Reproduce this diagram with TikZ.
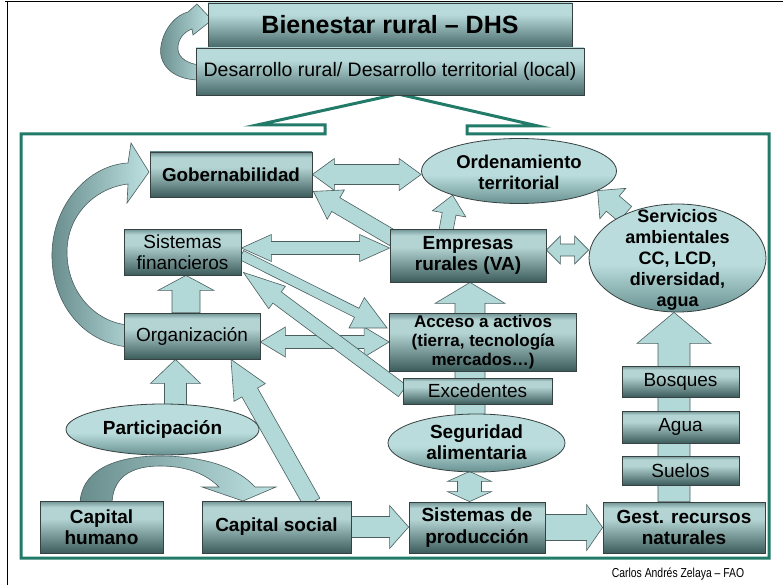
\documentclass[tikz,border=0pt]{standalone}
\usepackage{fontspec}
\setmainfont{Liberation Sans}
\newfontfamily\footfont[FakeStretch=0.8]{Liberation Sans}
\usetikzlibrary{calc,shapes.geometric}
\definecolor{bxT}{RGB}{112,146,146}
\definecolor{bxL}{RGB}{180,212,212}
\definecolor{bxD}{RGB}{60,92,92}
\definecolor{elL}{RGB}{186,220,220}
\definecolor{elD}{RGB}{105,145,145}
\definecolor{tL}{RGB}{185,218,218}
\definecolor{tD}{RGB}{72,106,106}
\definecolor{arF}{RGB}{178,216,216}
\definecolor{arD}{RGB}{105,140,140}
\definecolor{arL}{RGB}{190,225,225}
\definecolor{arLine}{RGB}{75,95,95}
\definecolor{frameG}{RGB}{34,122,104}
\definecolor{bxLine}{RGB}{55,65,65}
\pgfdeclareverticalshading{boxsh}{100bp}{color(0bp)=(bxD); color(25bp)=(bxD); color(58bp)=(bxL); color(69bp)=(bxL); color(75bp)=(bxT); color(100bp)=(bxT)}
\pgfdeclareverticalshading{ellsh}{100bp}{color(0bp)=(elD); color(25bp)=(elD); color(47bp)=(elL); color(75bp)=(elL); color(100bp)=(elL)}
\pgfdeclareverticalshading{topsh}{100bp}{color(0bp)=(tD); color(25bp)=(tD); color(62bp)=(tL); color(75bp)=(tL); color(100bp)=(tL)}
\pgfdeclarelayer{bottom}
\pgfdeclarelayer{background}
\pgfsetlayers{bottom,background,main}
% single block arrow: from, to, shaft half width, head half width, head length
\newcommand\blockarrow[6][]{%
  \coordinate (ba-a) at #2;
  \coordinate (ba-b) at #3;
  \coordinate (ba-h) at ($(ba-b)!#6!(ba-a)$);
  \path[blockarr,#1] ($(ba-a)!#4!90:(ba-b)$) -- ($(ba-h)!#4!90:(ba-b)$) -- ($(ba-h)!#5!90:(ba-b)$) -- (ba-b) -- ($(ba-h)!#5!-90:(ba-b)$) -- ($(ba-h)!#4!-90:(ba-b)$) -- ($(ba-a)!#4!-90:(ba-b)$) -- cycle;
}
% double block arrow
\newcommand\dblarrow[6][]{%
  \coordinate (ba-a) at #2;
  \coordinate (ba-b) at #3;
  \coordinate (ba-h) at ($(ba-b)!#6!(ba-a)$);
  \coordinate (ba-g) at ($(ba-a)!#6!(ba-b)$);
  \path[blockarr,#1] (ba-a) -- ($(ba-g)!#5!90:(ba-b)$) -- ($(ba-g)!#4!90:(ba-b)$) -- ($(ba-h)!#4!90:(ba-b)$) -- ($(ba-h)!#5!90:(ba-b)$) -- (ba-b) -- ($(ba-h)!#5!-90:(ba-b)$) -- ($(ba-h)!#4!-90:(ba-b)$) -- ($(ba-g)!#4!-90:(ba-b)$) -- ($(ba-g)!#5!-90:(ba-b)$) -- cycle;
}
\begin{document}
\begin{tikzpicture}[x=1pt,y=-1pt,
  rbox/.style={draw=bxLine, line width=0.8pt, shade, shading=boxsh, inner sep=0pt, align=center, text=black, font=\fontsize{19}{21}\selectfont},
  bbox/.style={rbox, font=\fontsize{19}{21.5}\selectfont\bfseries},
  tbox/.style={rbox, shading=topsh},
  ellnode/.style={draw=bxLine, line width=0.8pt, ellipse, shade, shading=ellsh, inner sep=0pt},
  lbl/.style={align=center, inner sep=0pt, text=black},
  blockarr/.style={draw=arLine, line width=0.6pt, fill=arF, line join=miter},
  curvarrow/.style={draw=arLine, line width=0.6pt, left color=arD, right color=arL, line join=miter}]
\useasboundingbox (0,0) rectangle (783,585);
\begin{pgfonlayer}{bottom}
\fill[white] (0,0) rectangle (783,585);
\draw[line width=1pt] (5,2) -- (783,2);
\draw[line width=1pt] (7,2) -- (7,585);
\draw[frameG, line width=3pt, fill=white, line join=miter] (21,134) -- (325,134) -- (325,125) -- (257,125) -- (398,94) -- (538,126) -- (467,126) -- (467,134) -- (769,134) -- (769,558) -- (21,558) -- cycle;
\end{pgfonlayer}

% nodes
\node[tbox, minimum width=364pt, minimum height=44pt, font=\fontsize{25}{28}\selectfont\bfseries] (bien) at (390,25) {Bienestar rural – DHS};
\node[tbox, minimum width=388pt, minimum height=47pt, font=\fontsize{19.5}{22}\selectfont] (desa) at (390,71.5) {Desarrollo rural/ Desarrollo territorial (local)};
\node[bbox, minimum width=162pt, minimum height=45pt, font=\fontsize{18.8}{21}\selectfont\bfseries] (gob) at (231,174.5) {Gobernabilidad};
\node[ellnode, minimum width=195pt, minimum height=65pt] (ord) at (519,171) {};
\node[lbl, font=\fontsize{18.5}{21}\selectfont\bfseries] (ordt) at (519,172.5) {Ordenamiento\\territorial};
\node[rbox, minimum width=117pt, minimum height=46pt] (sfin) at (182.5,252) {Sistemas\\financieros};
\node[bbox, minimum width=156pt, minimum height=53pt] (emp) at (468,255.5) {Empresas\\rurales (VA)};
\node[ellnode, minimum width=177pt, minimum height=108pt] (serv) at (677.5,258) {};
\node[lbl, font=\fontsize{18}{21}\selectfont\bfseries] (servt) at (677.5,259.5) {Servicios\\ambientales\\CC, LCD,\\diversidad,\\agua};
\node[rbox, minimum width=136pt, minimum height=46pt] (org) at (192,336) {Organización};
\node[bbox, minimum width=187pt, minimum height=58pt, font=\fontsize{17}{19}\selectfont\bfseries] (acc) at (483,342) {Acceso a activos\\(tierra, tecnología\\mercados…)};
\node[rbox, minimum width=149pt, minimum height=26pt] (exc) at (477.5,391) {Excedentes};
\node[ellnode, minimum width=177pt, minimum height=58pt] (seg) at (476.5,443) {};
\node[lbl, font=\fontsize{19}{21}\selectfont\bfseries] (segt) at (476.5,442.5) {Seguridad\\alimentaria};
\node[bbox, minimum width=136pt, minimum height=51pt] (sprod) at (477,527.5) {Sistemas de\\producción};
\node[bbox, minimum width=162pt, minimum height=51pt] (gest) at (684,527.5) {Gest. recursos\\naturales};
\node[rbox, minimum width=117pt, minimum height=31pt] (bos) at (680.5,381.5) {Bosques};
\node[rbox, minimum width=117pt, minimum height=32pt] (agua) at (680.5,427) {Agua};
\node[rbox, minimum width=117pt, minimum height=29pt] (sue) at (680.5,470.5) {Suelos};
\node[ellnode, minimum width=193pt, minimum height=51pt] (part) at (162.5,429.5) {};
\node[lbl, font=\fontsize{19}{21}\selectfont\bfseries] (partt) at (162.5,429.5) {Participación};
\node[bbox, minimum width=123pt, minimum height=52pt] (chum) at (101.5,527) {Capital\\humano};
\node[bbox, minimum width=149pt, minimum height=52pt] (csoc) at (276.5,527) {Capital social};
\node[lbl, font=\footfont\fontsize{13}{15}\selectfont] (foot) at (678,574) {Carlos Andrés Zelaya – FAO};

\begin{pgfonlayer}{background}
% curved arrows
\path[curvarrow] (200,80) .. controls (170,80) and (158,62) .. (161,46) .. controls (164,28) and (176,15) .. (188,12) -- (197,4) -- (212,20) -- (193,35) -- (192,29) .. controls (183,32) and (177,41) .. (178,50) .. controls (179,58) and (188,64) .. (200,65) -- cycle;
\path[curvarrow] (128,347) .. controls (80,342) and (51,300) .. (52,253) .. controls (53,205) and (88,165) .. (128,163) -- (131,143) -- (149,172) -- (127,203) -- (128,184) .. controls (95,188) and (67,215) .. (67,252) .. controls (67,292) and (95,322) .. (128,325) -- cycle;
\path[curvarrow] (80,505) .. controls (80,472) and (112,456) .. (160,456) .. controls (205,456) and (238,468) .. (255,487) -- (276,487) -- (243,501) -- (202,487) -- (219,487) .. controls (205,473) and (185,466) .. (160,466) .. controls (130,466) and (112,478) .. (112,505) -- cycle;
% block arrows
\dblarrow{(gob.east)}{(gob.east -| ord.west)}{10pt}{16pt}{22pt}
\blockarrow{($(emp.north west)+(4,10)$)}{($(gob.south east)+(1,-6)$)}{8pt}{17pt}{26pt}
\blockarrow{($(emp.north)+(-22,2)$)}{(ord.200)}{7pt}{17pt}{19pt}
\blockarrow{(serv.140)}{(ord.-14)}{10pt}{20pt}{20pt}
\dblarrow{($(sfin.east)+(0,-4)$)}{($(emp.west)+(0,-7.5)$)}{6.5pt}{13.5pt}{30pt}
\dblarrow{($(org.east)+(0,6)$)}{(acc.west)}{6.5pt}{15pt}{25pt}
\blockarrow{($(sfin.east)+(0,3)$)}{($(acc.west)+(-2,-14)$)}{5pt}{17pt}{34pt}
\blockarrow{(exc.west)}{($(sfin.south east)+(2,-3)$)}{7pt}{14pt}{42pt}
\blockarrow{($(org.north)+(-6,0)$)}{($(sfin.south)+(3.5,0)$)}{14pt}{28pt}{15pt}
\blockarrow{($(part.north)+(13,2)$)}{($(org.south)+(-16.5,0)$)}{11pt}{25pt}{24pt}
\blockarrow{($(csoc.north)+(35.5,2)$)}{($(org.south)+(39,0)$)}{9pt}{18pt}{38pt}
\blockarrow{($(seg.north)+(-6.5,10)$)}{($(emp.south)+(2,0)$)}{15pt}{35pt}{21pt}
\dblarrow{($(seg.south)+(-7,-1)$)}{($(sprod.north)+(-7.5,0)$)}{12pt}{22pt}{10pt}
\blockarrow{(csoc.east)}{(csoc.east -| sprod.west)}{10.5pt}{21.5pt}{19pt}
\blockarrow{(sprod.east)}{(gest.west)}{13pt}{23pt}{16pt}
\blockarrow{($(gest.north)+(-10,0)$)}{($(serv.south)+(-3.5,0)$)}{16pt}{37pt}{31pt}
\dblarrow{($(emp.east)+(0,-5.5)$)}{($(serv.west)+(0,-8)$)}{6pt}{14pt}{14pt}
\end{pgfonlayer}
\end{tikzpicture}
\end{document}
